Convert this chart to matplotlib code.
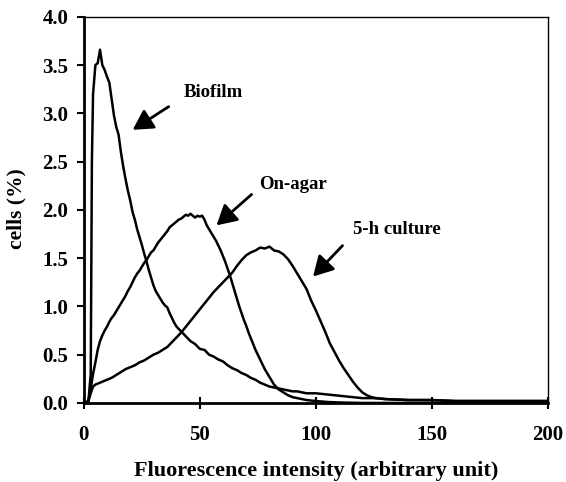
import numpy as np
import matplotlib.pyplot as plt

# Flow cytometry histograms (x: fluorescence, y: % cells)
biofilm_x = [0, 1, 2, 3, 3.5, 4, 5, 6, 7, 8, 9, 10, 11, 12, 13, 14, 15, 16, 17, 18,
             19, 20, 21, 22, 23, 24, 25, 26, 27, 28, 29, 30, 31, 32, 33, 34, 35, 36,
             37, 38, 39, 40, 42, 44, 46, 48, 50, 52, 54, 56, 58, 60, 62, 64, 66, 68,
             70, 72, 74, 76, 78, 80, 82, 84, 86, 88, 90, 92, 94, 96, 98, 100, 104,
             108, 112, 116, 120, 125, 130, 140, 150, 160, 170, 180, 190, 200]
biofilm_y = [0, 0, 0.02, 0.3, 2.5, 3.2, 3.5, 3.52, 3.66, 3.5, 3.45, 3.38, 3.32, 3.15,
             2.98, 2.86, 2.78, 2.6, 2.45, 2.32, 2.2, 2.1, 1.98, 1.9, 1.8, 1.72, 1.64,
             1.55, 1.47, 1.38, 1.3, 1.22, 1.16, 1.12, 1.08, 1.04, 1.01, 0.99, 0.93,
             0.88, 0.83, 0.79, 0.74, 0.69, 0.64, 0.61, 0.56, 0.55, 0.5, 0.48, 0.45,
             0.43, 0.39, 0.36, 0.34, 0.31, 0.29, 0.26, 0.24, 0.21, 0.19, 0.17, 0.16,
             0.15, 0.14, 0.13, 0.12, 0.12, 0.11, 0.1, 0.1, 0.1, 0.09, 0.08, 0.07,
             0.06, 0.05, 0.05, 0.04, 0.03, 0.03, 0.02, 0.02, 0.02, 0.02, 0.02]

agar_x = [0, 1, 2, 3, 4, 5, 6, 7, 8, 9, 10, 11, 12, 13, 14, 15, 16, 17, 18, 19, 20,
          21, 22, 23, 24, 25, 26, 27, 28, 29, 30, 31, 32, 33, 34, 35, 36, 37, 38, 39,
          40, 41, 42, 43, 44, 45, 46, 47, 48, 49, 50, 51, 52, 53, 54, 55, 56, 57, 58,
          59, 60, 61, 62, 63, 64, 65, 66, 67, 68, 69, 70, 71, 72, 73, 74, 75, 76, 77,
          78, 79, 80, 81, 82, 84, 86, 88, 90, 92, 94, 96, 100, 105, 110, 120, 200]
agar_y = [0, 0, 0.02, 0.15, 0.3, 0.42, 0.55, 0.64, 0.7, 0.75, 0.79, 0.84, 0.88, 0.91,
          0.95, 0.99, 1.03, 1.07, 1.11, 1.16, 1.2, 1.25, 1.3, 1.34, 1.37, 1.41, 1.45,
          1.48, 1.52, 1.56, 1.58, 1.62, 1.66, 1.69, 1.72, 1.75, 1.78, 1.82, 1.84,
          1.86, 1.88, 1.9, 1.91, 1.93, 1.95, 1.94, 1.96, 1.94, 1.92, 1.94, 1.93,
          1.94, 1.9, 1.84, 1.8, 1.76, 1.72, 1.68, 1.63, 1.58, 1.52, 1.46, 1.39, 1.32,
          1.24, 1.16, 1.08, 1.0, 0.93, 0.86, 0.8, 0.73, 0.67, 0.61, 0.55, 0.5, 0.45,
          0.4, 0.35, 0.31, 0.27, 0.23, 0.19, 0.14, 0.11, 0.08, 0.06, 0.05, 0.04,
          0.03, 0.02, 0.01, 0.005, 0, 0]

culture_x = [0, 2, 3, 4, 5, 6, 8, 10, 12, 14, 16, 18, 20, 22, 24, 26, 28, 30, 32, 34,
             36, 38, 40, 42, 44, 46, 48, 50, 52, 54, 56, 58, 60, 62, 64, 66, 68, 70,
             72, 74, 76, 78, 80, 82, 84, 86, 88, 90, 92, 94, 96, 98, 100, 102, 104,
             106, 108, 110, 112, 114, 116, 118, 120, 122, 124, 126, 130, 140, 150,
             160, 180, 200]
culture_y = [0, 0.02, 0.1, 0.17, 0.19, 0.2, 0.22, 0.24, 0.26, 0.29, 0.32, 0.35, 0.37,
             0.39, 0.42, 0.44, 0.47, 0.5, 0.52, 0.55, 0.58, 0.63, 0.68, 0.73, 0.79,
             0.85, 0.91, 0.97, 1.03, 1.09, 1.15, 1.2, 1.25, 1.3, 1.35, 1.42, 1.48,
             1.53, 1.56, 1.58, 1.61, 1.6, 1.62, 1.58, 1.57, 1.54, 1.49, 1.42, 1.34,
             1.26, 1.18, 1.06, 0.96, 0.85, 0.74, 0.62, 0.53, 0.44, 0.36, 0.29, 0.22,
             0.16, 0.11, 0.08, 0.06, 0.05, 0.04, 0.03, 0.03, 0.02, 0.02, 0.02]

labels = ['Biofilm', 'On-agar', '5-h culture']
label_pos = [(56, 3.22), (90, 2.26), (135, 1.80)]
arrow_tail = [(36.6, 3.07), (72.3, 2.16), (111.5, 1.63)]
arrow_head = [(21.1, 2.83), (57.2, 1.84), (98.8, 1.31)]

plt.rcParams['font.family'] = 'Liberation Serif'
plt.rcParams['font.weight'] = 'bold'

fig = plt.figure(figsize=(5.66, 4.82), dpi=100)
ax = fig.add_axes([0.148, 0.164, 0.82, 0.801])

for xs, ys in [(biofilm_x, biofilm_y), (agar_x, agar_y), (culture_x, culture_y)]:
    ax.plot(xs, ys, color='black', lw=1.8)

for lab, pos, tail, head in zip(labels, label_pos, arrow_tail, arrow_head):
    ax.text(pos[0], pos[1], lab, ha='center', va='center', fontsize=13.5, fontweight='bold')
    ax.annotate('', xy=head, xytext=tail,
                arrowprops=dict(arrowstyle='-|>,head_length=0.8,head_width=0.45',
                                color='black', lw=2, mutation_scale=15,
                                shrinkA=0, shrinkB=0))

ax.set_xlim(0, 200)
ax.set_ylim(0, 4.0)
ax.set_xticks([0, 50, 100, 150, 200])
ax.set_yticks(np.arange(0, 4.01, 0.5))
ax.set_yticklabels(['%.1f' % v for v in np.arange(0, 4.01, 0.5)])
ax.tick_params(axis='x', direction='inout', length=8, width=1.5, labelsize=15, pad=12)
ax.tick_params(axis='y', direction='out', length=5, width=1.5, labelsize=15, pad=6)
for s in ['left', 'bottom']:
    ax.spines[s].set_linewidth(2)
for s in ['top', 'right']:
    ax.spines[s].set_linewidth(1)

ax.set_xlabel('Fluorescence intensity (arbitrary unit)', fontsize=16, fontweight='bold', va='center')
ax.xaxis.set_label_coords(0.5, -0.176)
ax.set_ylabel('cells (%)', fontsize=15.5, fontweight='bold', va='center')
ax.yaxis.set_label_coords(-0.144, 0.503)

fig.savefig('out.png', dpi=100)
